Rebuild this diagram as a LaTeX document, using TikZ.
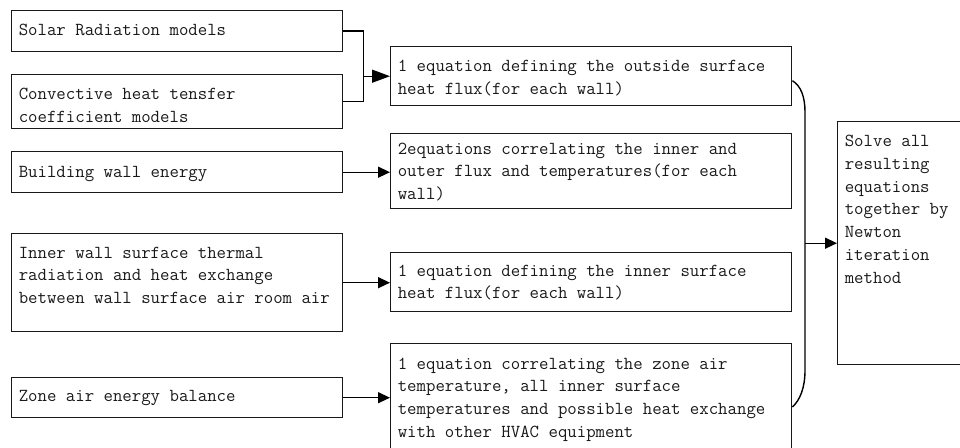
\documentclass[tikz,border=0pt]{standalone}
\usepackage{fontspec}
\usetikzlibrary{arrows.meta,calc}
\tikzset{
  box/.style={draw=black!90, line width=1.4pt, rectangle, inner sep=0pt, anchor=north west},
  txt/.style={anchor=north west, inner sep=0pt, align=left, text=black!90,
    font=\fontsize{18.3}{22.7}\selectfont\ttfamily},
  conn/.style={draw=black, line width=1.4pt},
  arr/.style={conn, -{Triangle[length=12pt,width=11pt]}},
  bigarr/.style={conn, -{Triangle[length=18pt,width=13pt]}},
}
\newcommand\boxtext[3]{\node[txt] at ([shift={(7.6pt,-#2pt)}]#1.north west) {\strut #3};}
\begin{document}
\begin{tikzpicture}[x=1pt,y=-1pt]
\path[use as bounding box, clip] (0,0) rectangle (960,447);
% left boxes
\node[box, minimum width=331pt, minimum height=41.5pt] (s) at (11,9.5) {};
\node[box, minimum width=331pt, minimum height=54pt] (c) at (11,74) {};
\node[box, minimum width=331pt, minimum height=41pt] (b) at (11,151) {};
\node[box, minimum width=331pt, minimum height=98pt] (i) at (11,233) {};
\node[box, minimum width=331pt, minimum height=40pt] (z) at (11,377) {};
% middle boxes
\node[box, minimum width=401pt, minimum height=59pt] (m1) at (390,46) {};
\node[box, minimum width=401pt, minimum height=75pt] (m2) at (390,133) {};
\node[box, minimum width=401pt, minimum height=59pt] (m3) at (390,252) {};
\node[box, minimum width=401pt, minimum height=110pt] (m4) at (390,343) {};
% right box
\node[box, minimum width=140pt, minimum height=243pt] (r) at (837,121) {};
% texts
\boxtext{s}{9.6}{Solar Radiation models}
\boxtext{c}{9.6}{Convective heat tensfer\\coefficient models}
\boxtext{b}{10.1}{Building wall energy}
\boxtext{i}{9.1}{Inner wall surface thermal\\radiation and heat exchange\\between wall surface air room air}
\boxtext{z}{8.1}{Zone air energy balance}
\boxtext{m1}{9.8}{1 equation defining the outside surface\\heat flux(for each wall)}
\boxtext{m2}{5.1}{2equations correlating the inner and\\outer flux and temperatures(for each\\wall)}
\boxtext{m3}{8.1}{1 equation defining the inner surface\\heat flux(for each wall)}
\boxtext{m4}{10.1}{1 equation correlating the zone air\\temperature, all inner surface\\temperatures and possible heat exchange\\with other HVAC equipment}
\boxtext{r}{9.8}{Solve all\\resulting\\equations\\together by\\Newton\\iteration\\method}
% connectors
\coordinate (j) at ([xshift=20pt]s.east |- m1.west);
\draw[conn] (s.east) -| (j);
\draw[conn] (c.east) -| (j);
\draw[bigarr] (j) -- (m1.west);
\draw[arr] (b.east) -- (b.east -| m2.west);
\draw[arr] (i.east) -- (i.east -| m3.west);
\draw[arr] (z.east) -- (z.east -| m4.west);
% brace curve
\coordinate (k1) at ([yshift=-4.5pt]m1.east);
\coordinate (k2) at ([yshift=-64pt]m4.north east);
\draw[conn] (k1) .. controls (801,86) and (805,97) .. (805,112) -- (805,370) .. controls (805,388) and (800,400) .. (k2);
\coordinate (v) at (805,0 |- r.west);
\draw[arr] (v) -- (r.west);
\end{tikzpicture}
\end{document}
